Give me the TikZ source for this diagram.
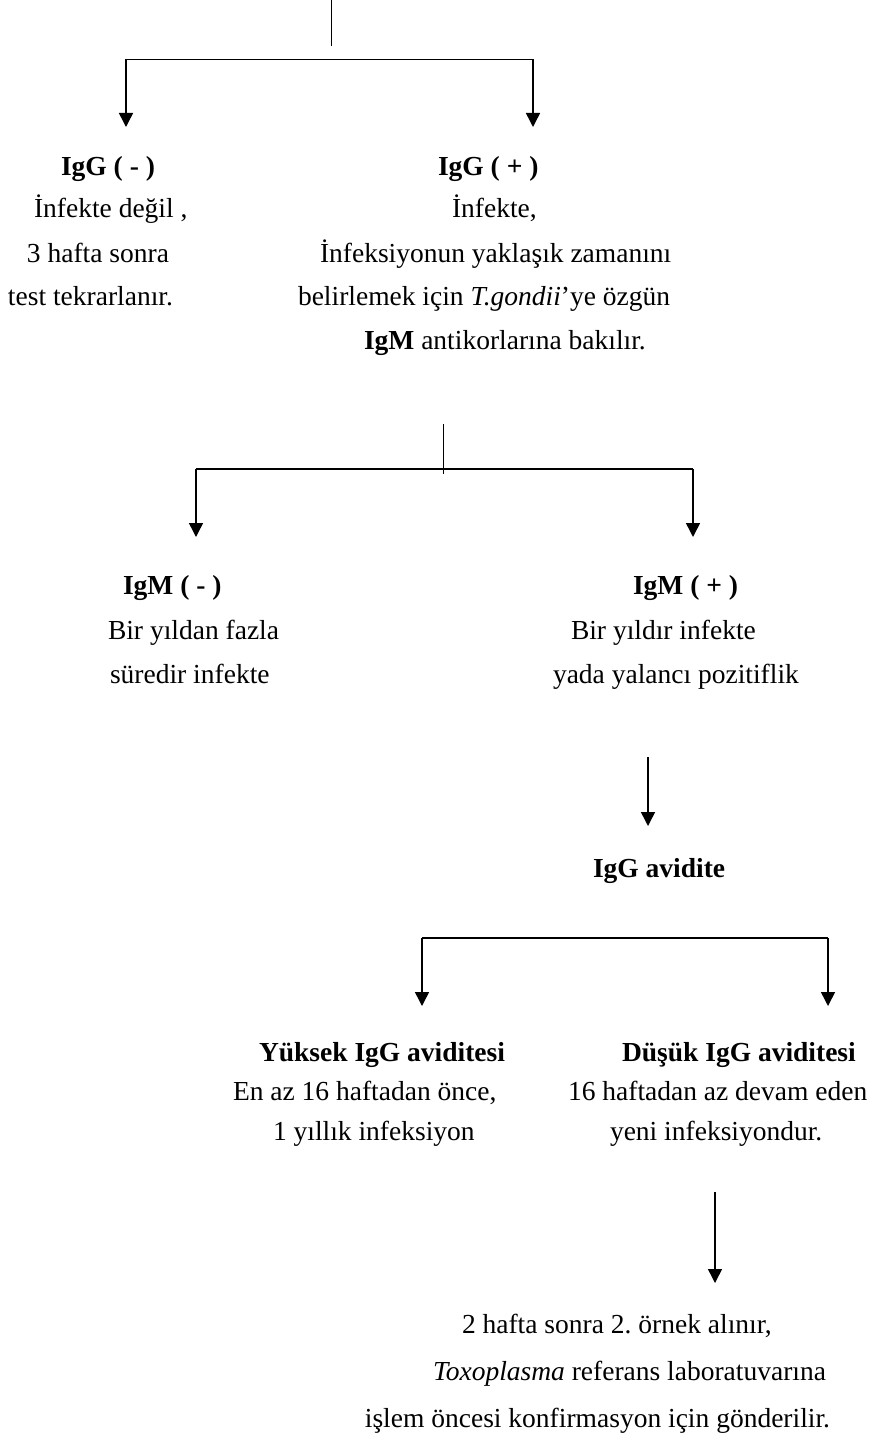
\documentclass[tikz,border=0pt]{standalone}
\usepackage{fontspec}
\setmainfont{Liberation Serif}
\usetikzlibrary{arrows.meta}
\frenchspacing
\begin{document}
\begin{tikzpicture}[x=1pt,y=-1pt,
  txt/.style={inner sep=0pt,outer sep=0pt,font=\fontsize{27.5}{33}\selectfont},
  lt/.style={txt,anchor=base west},
  rt/.style={txt,anchor=base east},
  conn/.style={line width=1.5pt,line join=miter},
  arr/.style={conn,-{Triangle[width=14pt,length=14pt]}}]
\useasboundingbox (0,0) rectangle (872,1450);

% ---------- top split ----------
\coordinate (s1top) at (331.7,0);
\coordinate (s1mid) at (331.7,46);
\coordinate (s1l) at (126,59.5);
\coordinate (s1r) at (533,59.5);
\coordinate (s1lt) at (126,127);
\coordinate (s1rt) at (533,127);
\draw[conn] (s1top) -- (s1mid);
\draw[conn] (s1l) -- (s1r);
\draw[arr] (s1l) -- (s1lt);
\draw[arr] (s1r) -- (s1rt);

% ---------- IgG blocks ----------
\node[lt] (iggneg) at (61,176) {\textbf{IgG ( - )}};
\node[lt] (iggneg1) at (34,218) {İnfekte değil ,};
\node[lt] (iggneg2) at (27,262) {3 hafta sonra};
\node[lt] (iggneg3) at (8,305) {test tekrarlanır.};

\node[lt] (iggpos) at (438,176) {\textbf{IgG ( + )}};
\node[lt] (iggpos1) at (452,218) {İnfekte,};
\node[lt] (iggpos2) at (320,262) {İnfeksiyonun yaklaşık zamanını};
\node[lt] (iggpos3) at (298,305) {belirlemek için \textit{T.gondii}’ye özgün};
\node[lt] (iggpos4) at (364,349) {\textbf{IgM} antikorlarına bakılır.};

% ---------- IgM split ----------
\coordinate (s2top) at (443.5,424);
\coordinate (s2bot) at (443.5,474);
\coordinate (s2l) at (196,469);
\coordinate (s2r) at (693,469);
\coordinate (s2lt) at (196,537);
\coordinate (s2rt) at (693,537);
\draw[conn] (s2top) -- (s2bot);
\draw[conn] (s2l) -- (s2r);
\draw[arr] (s2l) -- (s2lt);
\draw[arr] (s2r) -- (s2rt);

% ---------- IgM blocks ----------
\node[lt] (igmneg) at (123,594) {\textbf{IgM ( - )}};
\node[lt] (igmneg1) at (108,639) {Bir yıldan fazla};
\node[lt] (igmneg2) at (110,683) {süredir infekte};

\node[lt] (igmpos) at (633,594) {\textbf{IgM ( + )}};
\node[lt] (igmpos1) at (571,639) {Bir yıldır infekte};
\node[lt] (igmpos2) at (553,683) {yada yalancı pozitiflik};

% ---------- avidity ----------
\coordinate (a3top) at (648,757);
\coordinate (a3tip) at (648,826);
\draw[arr] (a3top) -- (a3tip);
\node[lt] (avid) at (593,877) {\textbf{IgG avidite}};

\coordinate (s3l) at (422,938);
\coordinate (s3r) at (828,938);
\coordinate (s3lt) at (422,1006);
\coordinate (s3rt) at (828,1006);
\draw[conn] (s3l) -- (s3r);
\draw[arr] (s3l) -- (s3lt);
\draw[arr] (s3r) -- (s3rt);

\node[lt] (high) at (259,1061) {\textbf{Yüksek IgG aviditesi}};
\node[lt] (high1) at (233,1100) {En az 16 haftadan önce,};
\node[lt] (high2) at (273,1140) {1 yıllık infeksiyon};

\node[lt] (low) at (622,1061) {\textbf{Düşük IgG aviditesi}};
\node[lt] (low1) at (568,1100) {16 haftadan az devam eden};
\node[lt] (low2) at (610,1140) {yeni infeksiyondur.};

% ---------- final ----------
\coordinate (a4top) at (715,1192);
\coordinate (a4tip) at (715,1283);
\draw[arr] (a4top) -- (a4tip);

\node[lt] (fin1) at (462,1333) {2 hafta sonra 2. örnek alınır,};
\node[lt] (fin2) at (433,1380) {\textit{Toxoplasma} referans laboratuvarına};
\node[rt] (fin3) at (830,1427) {işlem öncesi konfirmasyon için gönderilir.};
\end{tikzpicture}
\end{document}
